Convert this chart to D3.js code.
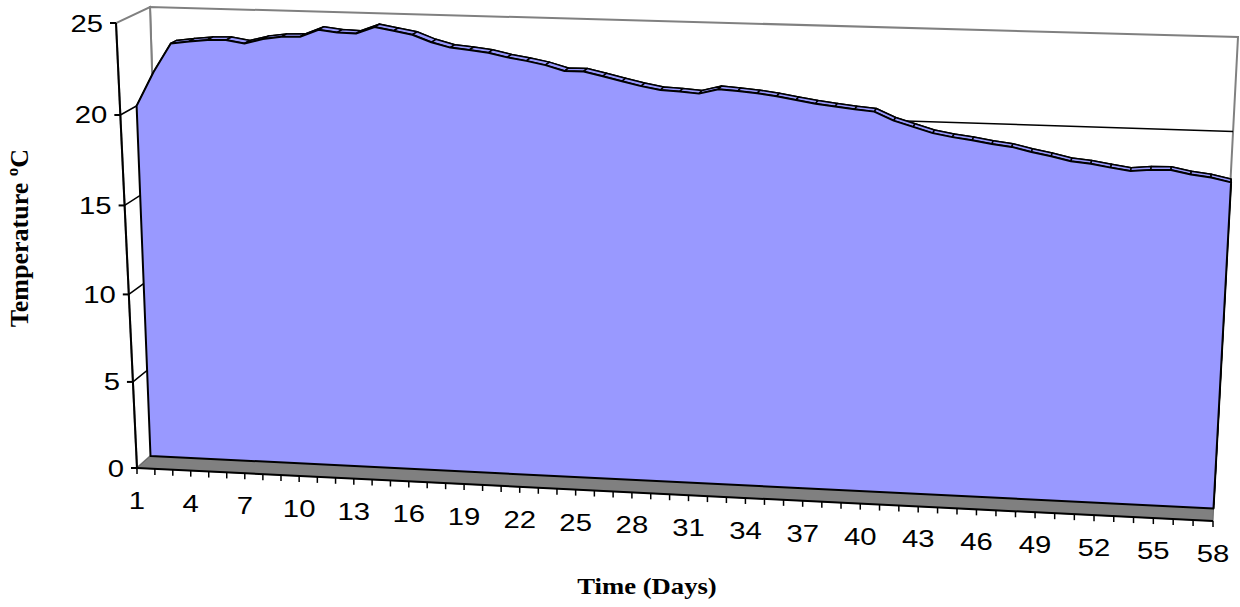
<!DOCTYPE html>
<html>
<head>
<meta charset="utf-8">
<script src="https://cdn.jsdelivr.net/npm/d3@7"></script>
<style>
  body { margin: 0; background: #fff; }
  svg { display: block; }
</style>
</head>
<body>
<svg id="chart"></svg>
<script>
const days = d3.range(1, 59);
const temps = [
  20.0, 21.9, 23.5, 23.64, 23.75, 23.77, 23.61, 23.88, 24.03, 24.06,
  24.47, 24.35, 24.32, 24.7, 24.52, 24.34, 23.96, 23.7, 23.6, 23.48,
  23.26, 23.1, 22.9, 22.61, 22.62, 22.39, 22.15, 21.92, 21.74, 21.69,
  21.61, 21.88, 21.81, 21.72, 21.59, 21.42, 21.26, 21.14, 21.02, 20.93,
  20.48, 20.18, 19.88, 19.7, 19.57, 19.4, 19.28, 19.04, 18.85, 18.62,
  18.52, 18.35, 18.2, 18.3, 18.33, 18.12, 18.0, 17.78
];
const valueTicks = [0, 5, 10, 15, 20, 25];
const dayLabels = days.filter((d) => (d - 1) % 3 === 0);

let width = 1240;
let height = 607;
let svg = d3.select("#chart").attr("width", width).attr("height", height);

// screen corners of the front plane (z=0) and back wall (z=1)
// order: (u0,v0) (u1,v0) (u1,v1) (u0,v1)
let frontQuad = [[137, 468], [1213, 521], [1239, 52], [116, 23]];
let backQuad = [[164, 444], [1214, 496], [1238, 37], [150, 7]];

// perspective map of the unit square onto a quad
function quadMap(q) {
  let [[x0, y0], [x1, y1], [x2, y2], [x3, y3]] = q;
  let sx = x0 - x1 + x2 - x3;
  let sy = y0 - y1 + y2 - y3;
  let dx1 = x1 - x2, dx2 = x3 - x2, dy1 = y1 - y2, dy2 = y3 - y2;
  let den = dx1 * dy2 - dx2 * dy1;
  let g = (sx * dy2 - dx2 * sy) / den;
  let h = (dx1 * sy - sx * dy1) / den;
  let a = x1 - x0 + g * x1, b = x3 - x0 + h * x3;
  let d = y1 - y0 + g * y1, e = y3 - y0 + h * y3;
  return (u, v) => {
    let w = g * u + h * v + 1;
    return [(a * u + b * v + x0) / w, (d * u + e * v + y0) / w];
  };
}

let front = quadMap(frontQuad);
let back = quadMap(backQuad);

let x = d3.scaleLinear().domain([1, 58]).range([0, 1]);
let y = d3.scaleLinear().domain([0, 25]).range([0, 1]);

function proj(day, val, z) {
  let p0 = front(x(day), y(val));
  let p1 = back(x(day), y(val));
  return [p0[0] + (p1[0] - p0[0]) * z, p0[1] + (p1[1] - p0[1]) * z];
}

let poly = (pts) => d3.line()(pts) + "Z";

let wallGray = "#808080";
let areaColor = "#9999ff";
let zFront = 0.5;
let zBack = 0.68;

// back wall
svg.append("path")
  .attr("d", poly([proj(1, 0, 1), proj(58, 0, 1), proj(58, 25, 1), proj(1, 25, 1)]))
  .style("fill", "#fff")
  .style("stroke", wallGray)
  .style("stroke-width", 2);

// side wall
svg.append("path")
  .attr("d", poly([proj(1, 0, 0), proj(1, 0, 1), proj(1, 25, 1), proj(1, 25, 0)]))
  .style("fill", "#fff")
  .style("stroke", wallGray)
  .style("stroke-width", 2);

// gridlines on the walls
valueTicks.filter((v) => v > 0 && v < 25).forEach((v) => {
  svg.append("path")
    .attr("d", d3.line()([proj(1, v, 0), proj(1, v, 1), proj(58, v, 1)]))
    .style("fill", "none")
    .style("stroke", "#000")
    .style("stroke-width", 1.5);
});

// floor
svg.append("path")
  .attr("d", poly([proj(1, 0, 0), proj(58, 0, 0), proj(58, 0, 1), proj(1, 0, 1)]))
  .style("fill", wallGray)
  .style("stroke", "#666")
  .style("stroke-width", 1);

// area slab: back face, top strip, right face, front face
let topFront = days.map((d, i) => proj(d, temps[i], zFront));
let topBack = days.map((d, i) => proj(d, temps[i], zBack));

svg.append("path")
  .attr("d", poly(topBack.concat([proj(58, 0, zBack), proj(1, 0, zBack)])))
  .style("fill", areaColor)
  .style("stroke", "#000")
  .style("stroke-width", 1.5);

svg.append("g")
  .selectAll("path")
  .data(d3.range(days.length - 1))
  .join("path")
  .attr("d", (i) => poly([topFront[i], topFront[i + 1], topBack[i + 1], topBack[i]]))
  .style("fill", areaColor)
  .style("stroke", "#000")
  .style("stroke-width", 1.5)
  .style("stroke-linejoin", "round");

svg.append("path")
  .attr("d", poly([topFront[57], proj(58, 0, zFront), proj(58, 0, zBack), topBack[57]]))
  .style("fill", areaColor)
  .style("stroke", "#000")
  .style("stroke-width", 1.5);

svg.append("path")
  .attr("d", poly(topFront.concat([proj(58, 0, zFront), proj(1, 0, zFront)])))
  .style("fill", areaColor)
  .style("stroke", "#000")
  .style("stroke-width", 2)
  .style("stroke-linejoin", "round");

// value axis
svg.append("path")
  .attr("d", d3.line()([proj(1, 0, 0), proj(1, 25, 0)]))
  .style("stroke", "#000")
  .style("stroke-width", 2);

valueTicks.forEach((v) => {
  let p = proj(1, v, 0);
  svg.append("line")
    .attr("x1", p[0] - 6)
    .attr("y1", p[1])
    .attr("x2", p[0])
    .attr("y2", p[1])
    .style("stroke", "#000")
    .style("stroke-width", 2);
  svg.append("text")
    .attr("transform", `translate(${p[0] - 13},${p[1] + 8.5}) scale(1.22,1)`)
    .attr("text-anchor", "end")
    .style("font-family", "Liberation Sans, Arial, sans-serif")
    .style("font-size", "24px")
    .text(v);
});

// category axis
svg.append("path")
  .attr("d", d3.line()([proj(1, 0, 0), proj(58, 0, 0)]))
  .style("stroke", "#000")
  .style("stroke-width", 2);

days.forEach((d) => {
  let p = proj(d, 0, 0);
  svg.append("line")
    .attr("x1", p[0])
    .attr("y1", p[1])
    .attr("x2", p[0])
    .attr("y2", p[1] + 6)
    .style("stroke", "#000")
    .style("stroke-width", 1.5);
});

dayLabels.forEach((d) => {
  let p = proj(d, 0, 0);
  svg.append("text")
    .attr("transform", `translate(${p[0]},${p[1] + 41}) scale(1.22,1)`)
    .attr("text-anchor", "middle")
    .style("font-family", "Liberation Sans, Arial, sans-serif")
    .style("font-size", "24px")
    .text(d);
});

// axis titles
svg.append("text")
  .attr("transform", "translate(647,594) scale(1.16,1)")
  .attr("text-anchor", "middle")
  .style("font-family", "Liberation Serif, Times New Roman, serif")
  .style("font-weight", "bold")
  .style("font-size", "23px")
  .text("Time (Days)");

svg.append("text")
  .attr("transform", "translate(28,238) rotate(-90)")
  .attr("text-anchor", "middle")
  .style("font-family", "Liberation Serif, Times New Roman, serif")
  .style("font-weight", "bold")
  .style("font-size", "26px")
  .text("Temperature ºC");
</script>
</body>
</html>
